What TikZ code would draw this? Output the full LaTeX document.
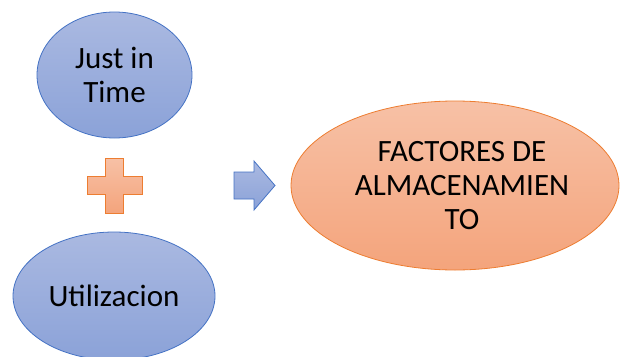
\documentclass[tikz,border=0pt]{standalone}
\usepackage{fontspec}
\setmainfont{Carlito}
\usepackage{xcolor}
\usetikzlibrary{shapes.geometric,positioning}

\definecolor{blueline}{HTML}{4472C4}
\definecolor{bluetop}{HTML}{AAB9E1}
\definecolor{bluebot}{HTML}{8BA2D8}
\definecolor{orangeline}{HTML}{ED7D31}
\definecolor{orangetop}{HTML}{F7C1A6}
\definecolor{orangebot}{HTML}{F4A47C}

\tikzset{
  blueblob/.style={ellipse, draw=blueline, line width=0.8pt, top color=bluetop, bottom color=bluebot, inner sep=0pt, align=center},
  orangeblob/.style={ellipse, draw=orangeline, line width=0.8pt, top color=orangetop, bottom color=orangebot, inner sep=0pt, align=center}
}

\begin{document}
\begin{tikzpicture}[x=1pt, y=-1pt, font=\fontsize{31}{34}\selectfont]
    \useasboundingbox (0,0) rectangle (620,356);
    % left column
    \node[blueblob, minimum width=155pt, minimum height=126pt] (jit) at (114.5,75) {Just in\\Time};
    \node[blueblob, minimum width=202pt, minimum height=128pt] (util) at (114,296) {Utilizacion};
    % plus sign
    \coordinate (plus) at (114.5,185.5);
    \draw[draw=orangeline, line width=0.8pt, top color=orangetop, bottom color=orangebot]
    ([shift={(-9,-27.5)}]plus) -- ([shift={(9,-27.5)}]plus) -- ([shift={(9,-9)}]plus) --
    ([shift={(27.5,-9)}]plus) -- ([shift={(27.5,9)}]plus) -- ([shift={(9,9)}]plus) --
    ([shift={(9,27.5)}]plus) -- ([shift={(-9,27.5)}]plus) -- ([shift={(-9,9)}]plus) --
    ([shift={(-27.5,9)}]plus) -- ([shift={(-27.5,-9)}]plus) -- ([shift={(-9,-9)}]plus) -- cycle;
    % result
    \node[orangeblob, minimum width=328pt, minimum height=169pt] (fact) at (455,185.5) {};
    \node[align=center] (facttext) at (462,185.5) {FACTORES DE\\ALMACENAMIEN\\TO};
    % block arrow
    \coordinate (arr) at (234,185.5);
    \draw[draw=blueline, line width=0.8pt, top color=bluetop, bottom color=bluebot]
    ([shift={(0,-13.5)}]arr) -- ([shift={(20,-13.5)}]arr) -- ([shift={(20,-24.5)}]arr) --
    ([shift={(41,0)}]arr) -- ([shift={(20,24.5)}]arr) -- ([shift={(20,13.5)}]arr) --
    ([shift={(0,13.5)}]arr) -- cycle;
\end{tikzpicture}
\end{document}
